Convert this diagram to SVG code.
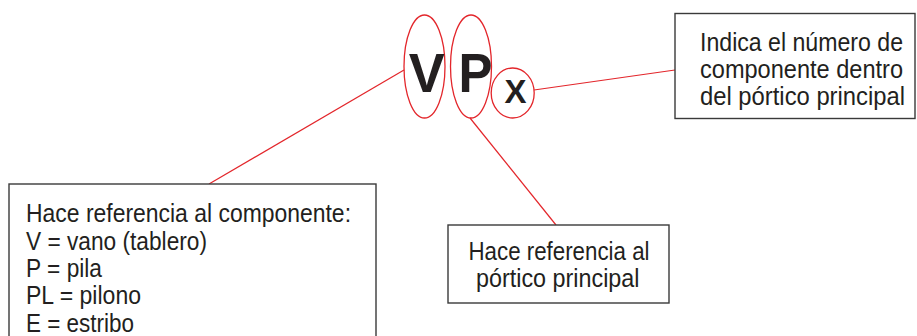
<svg xmlns="http://www.w3.org/2000/svg" width="917" height="336" viewBox="0 0 917 336">
<style>
.box{fill:#fff;stroke:#3a3a3a;stroke-width:1.4}
.ring{fill:none;stroke:#e3262b;stroke-width:1.3}
.conn{stroke:#e3262b;stroke-width:1.2;fill:none}
.t{font-family:"Liberation Sans",Arial,sans-serif;font-size:25px;fill:#231f20}
.big{font-family:"Liberation Sans",Arial,sans-serif;font-weight:bold;fill:#231f20;text-anchor:middle}
</style>
<rect width="917" height="336" fill="#fff"/>
<g id="connectors">
<line class="conn" x1="404" y1="70" x2="209" y2="184"/>
<line class="conn" x1="470" y1="118" x2="556" y2="225"/>
<line class="conn" x1="534" y1="90" x2="675" y2="70"/>
</g>
<g id="code">
<ellipse class="ring" cx="424.5" cy="66.5" rx="20.5" ry="51.5"/>
<ellipse class="ring" cx="471" cy="66.5" rx="20.5" ry="51.5"/>
<ellipse class="ring" cx="512.7" cy="93" rx="21.5" ry="25"/>
<text class="big" x="426.7" y="91.7" font-size="55" textLength="36" lengthAdjust="spacingAndGlyphs">V</text>
<text class="big" x="475.5" y="91.7" font-size="55" textLength="34" lengthAdjust="spacingAndGlyphs">P</text>
<text class="big" x="515.5" y="103.3" font-size="32.5" textLength="22" lengthAdjust="spacingAndGlyphs">X</text>
</g>
<g id="box-componente">
<rect class="box" x="9" y="184" width="367" height="170"/>
<text class="t" x="26" y="222" textLength="325" lengthAdjust="spacingAndGlyphs">Hace referencia al componente:</text>
<text class="t" x="26" y="249.5" textLength="181" lengthAdjust="spacingAndGlyphs">V = vano (tablero)</text>
<text class="t" x="26" y="277" textLength="76" lengthAdjust="spacingAndGlyphs">P = pila</text>
<text class="t" x="26" y="304" textLength="115" lengthAdjust="spacingAndGlyphs">PL = pilono</text>
<text class="t" x="26" y="331.5" textLength="108" lengthAdjust="spacingAndGlyphs">E = estribo</text>
</g>
<g id="box-portico">
<rect class="box" x="448" y="225" width="221" height="78"/>
<text class="t" x="468.5" y="260" textLength="181" lengthAdjust="spacingAndGlyphs">Hace referencia al</text>
<text class="t" x="476" y="287" textLength="163.5" lengthAdjust="spacingAndGlyphs">pórtico principal</text>
</g>
<g id="box-numero">
<rect class="box" x="675" y="13.5" width="240" height="105"/>
<text class="t" x="700" y="50.5" textLength="203" lengthAdjust="spacingAndGlyphs">Indica el número de</text>
<text class="t" x="700" y="77.5" textLength="203" lengthAdjust="spacingAndGlyphs">componente dentro</text>
<text class="t" x="700" y="104.5" textLength="205" lengthAdjust="spacingAndGlyphs">del pórtico principal</text>
</g>
</svg>
